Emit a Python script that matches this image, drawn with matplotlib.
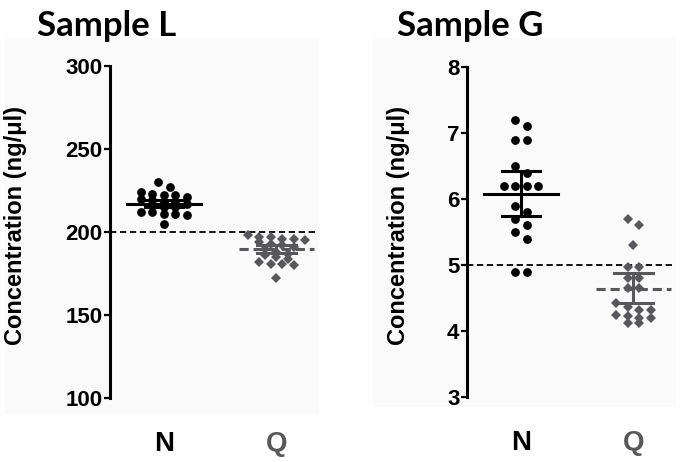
import numpy as np
import matplotlib.pyplot as plt
from matplotlib.patches import Rectangle

groups = ["N", "Q"]

# Sample L (ng/ul)
l_n = [230, 227, 224, 223, 222, 222, 221, 220, 219, 218, 218, 217,
       216, 215, 215, 212, 212, 211, 211, 210, 205]
l_q = [198, 197, 197, 196, 196, 195, 194, 193, 192, 191, 190, 188,
       187, 186, 185, 184, 182, 181, 181, 180, 172]
l_mean = [217, 190]
l_lo = [215, 187.5]
l_hi = [219, 192]
l_ref = 200

# Sample G (ng/ul)
g_n = [7.2, 7.1, 6.9, 6.9, 6.5, 6.4, 6.2, 6.2, 6.2, 6.2, 5.9, 5.8,
       5.7, 5.6, 5.5, 5.4, 4.9, 4.9]
g_q = [5.7, 5.6, 5.3, 4.97, 4.97, 4.8, 4.8, 4.65, 4.65, 4.42, 4.36,
       4.32, 4.32, 4.25, 4.22, 4.2, 4.2, 4.12, 4.12]
g_mean = [6.08, 4.64]
g_lo = [5.74, 4.42]
g_hi = [6.43, 4.88]
g_ref = 5

BOLD = "Liberation Sans"
GRAY = "#58585c"


def rows_layout(vals, row_h, xpx, gap):
    # group points into horizontal rows (Prism-like scatter) and spread each row
    order = np.argsort(vals)[::-1]
    offs = np.zeros(len(vals))
    rows = []
    start = None
    for i in order:
        if start is None or (start - vals[i]) > row_h:
            rows.append([i])
            start = vals[i]
        else:
            rows[-1].append(i)
    for r in rows:
        m = len(r)
        for k, i in enumerate(r):
            offs[i] = (k - (m - 1) / 2) * gap / xpx
    return offs


def panel(rect, n, q, mean, lo, hi, ref, row_h, ylim, ticks, title, tx, labx):
    ax = fig.add_axes(rect)
    ax.set_facecolor("none")
    ax.set_xlim(0.52, 2.37)
    ax.set_ylim(*ylim)
    xpx = rect[2] * 682 / 1.85

    ax.axhline(ref, color="black", lw=1.3, ls=(0, (3.5, 2)), zorder=1)

    xn = 1 + rows_layout(np.array(n, float), row_h, xpx, 11.5)
    xq = 2 + rows_layout(np.array(q, float), row_h, xpx, 11.5)
    ax.plot(xn, n, "o", color="black", ms=6.3, mew=0, zorder=3, clip_on=False)
    ax.plot(xq, q, "D", color=GRAY, ms=5.6, mew=0, zorder=3, clip_on=False)

    cols = ["black", GRAY]
    styles = ["-", (0, (3, 1.6))]
    for i, x in enumerate([1, 2]):
        c = cols[i]
        ax.plot([x - 0.33, x + 0.33], [mean[i], mean[i]], color=c, lw=2.2,
                ls=styles[i], zorder=4)
        ax.plot([x, x], [lo[i], hi[i]], color=c, lw=2.2, zorder=4)
        for v in (lo[i], hi[i]):
            ax.plot([x - 0.17, x + 0.17], [v, v], color=c, lw=2.2, zorder=4)

    for s in ("top", "right", "bottom"):
        ax.spines[s].set_visible(False)
    ax.spines["left"].set_linewidth(2.2)
    ax.set_yticks(ticks)
    ax.tick_params(axis="y", length=4.5, width=1.6, pad=1, labelsize=16)
    for lab in ax.get_yticklabels():
        lab.set_fontfamily(BOLD)
        lab.set_fontweight("bold")
    ax.set_xticks([1, 2])
    ax.set_xticklabels(groups, fontsize=20, fontweight="bold", fontfamily=BOLD)
    ax.get_xticklabels()[1].set_color(GRAY)
    ax.tick_params(axis="x", length=0, pad=24)

    ax.set_ylabel("Concentration (ng/\u03bcl)", fontsize=17, fontweight="bold",
                  fontfamily=BOLD)
    ax.yaxis.set_label_coords(labx, 0.52)
    fig.text(tx / 682, 1 - 26 / 462, title, fontsize=25, fontweight="bold",
             fontfamily="Lato", va="center", ha="left")
    return ax


fig = plt.figure(figsize=(6.82, 4.62), dpi=100)
fig.patch.set_facecolor("white")
fig.add_artist(Rectangle((5 / 682, 1 - 413 / 462), 313 / 682, 375 / 462,
                         transform=fig.transFigure, color="#fafafa", zorder=0))
fig.add_artist(Rectangle((373 / 682, 1 - 406 / 462), 302 / 682, 368 / 462,
                         transform=fig.transFigure, color="#fafafa", zorder=0))

panel([110 / 682, 1 - 398 / 462, 208 / 682, 332 / 462], l_n, l_q, l_mean, l_lo, l_hi,
      l_ref, 3.5, (100, 300), [100, 150, 200, 250, 300], "Sample L", 37, -0.40)
panel([467 / 682, 1 - 397 / 462, 208 / 682, 330 / 462], g_n, g_q, g_mean, g_lo, g_hi,
      g_ref, 0.105, (3, 8), [3, 4, 5, 6, 7, 8], "Sample G", 397, -0.274)

fig.savefig("out.png", dpi=100)
